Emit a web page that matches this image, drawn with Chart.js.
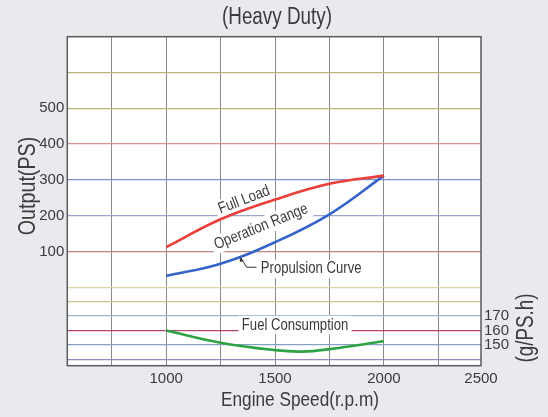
<!DOCTYPE html>
<html>
<head>
<meta charset="utf-8">
<script src="https://cdn.jsdelivr.net/npm/chart.js@4"></script>
<style>
  html, body { margin: 0; padding: 0; background: #e8eaee; }
  #wrap { width: 548px; height: 417px; }
</style>
</head>
<body>
<div id="wrap"><canvas id="c" width="548" height="417"></canvas></div>
<script>
// ---- data ----
const rpm = [1000, 1250, 1500, 1750, 2000];
const fullLoad = [112, 190, 245, 289, 312];
const propulsion = [32, 66, 126, 204, 312];
const fuelRpm = [1000, 1250, 1500, 1625, 1750, 2000];
const fuelConsumption = [160, 151.5, 146.3, 145.3, 147, 152.5];
const xTickLabels = ['1000', '1500', '2000', '2500'];
const outputTicks = [100, 200, 300, 400, 500];
const fuelTicks = [150, 160, 170];

const FONT = '"Liberation Sans", Arial, sans-serif';
const TEXT = '#3b3b3b';
const NARROW = 0.82;
Chart.defaults.font.family = FONT;
Chart.defaults.color = TEXT;

const X_MIN = 546, X_MAX = 2446;
const Y_MIN = -219, Y_MAX = 700;
const Y2_MIN = 135.5, Y2_MAX = 364;

const outputGridColors = {0: '#d9d4a2', 100: '#b98585', 200: '#9aa4cc', 300: '#7d8fd0', 400: '#dc9090', 500: '#b9b47f', 600: '#b9b47f'};
const fuelGridColors = {140: '#9a86c0', 150: '#86a2c4', 160: '#b4486a', 170: '#9fb4cc', 180: '#c9c18c'};

function pts(xs, ys) { return xs.map((x, i) => ({x: x, y: ys[i]})); }

// draws condensed text (horizontal squeeze) centred on x,y
function narrowText(ctx, text, x, y, size, angle, box) {
  ctx.save();
  ctx.translate(x, y);
  ctx.rotate(angle * Math.PI / 180);
  ctx.scale(NARROW, 1);
  ctx.font = size + 'px ' + FONT;
  const w = ctx.measureText(text).width;
  if (box) {
    ctx.fillStyle = '#ffffff';
    ctx.fillRect(-w / 2 - 4, -size * 0.58, w + 8, size * 1.16);
  }
  ctx.fillStyle = TEXT;
  ctx.textAlign = 'center';
  ctx.textBaseline = 'middle';
  ctx.fillText(text, 0, 0);
  ctx.restore();
}

const decor = {
  id: 'decor',
  beforeDraw(chart) {
    const {ctx, chartArea: a} = chart;
    ctx.save();
    ctx.fillStyle = '#e8eaee';
    ctx.fillRect(0, 0, chart.width, chart.height);
    ctx.fillStyle = '#ffffff';
    ctx.fillRect(a.left, a.top, a.right - a.left, a.bottom - a.top);
    ctx.restore();
  },
  beforeDatasetsDraw(chart) {
    const {ctx} = chart;
    const sx = chart.scales.x, sy = chart.scales.y, sy2 = chart.scales.y2;
    narrowText(ctx, 'Full Load', sx.getPixelForValue(1358), sy.getPixelForValue(244), 16, -21, true);
    narrowText(ctx, 'Operation Range', sx.getPixelForValue(1436), sy.getPixelForValue(169), 16, -22, true);
    narrowText(ctx, 'Propulsion Curve', sx.getPixelForValue(1666), sy.getPixelForValue(51), 16, 0, true);
    narrowText(ctx, 'Fuel Consumption', sx.getPixelForValue(1592), sy2.getPixelForValue(163.7), 16, 0, true);
    // leader for propulsion curve
    const tx = sx.getPixelForValue(1343), ty = sy.getPixelForValue(82);
    const mx = sx.getPixelForValue(1370), my = sy.getPixelForValue(56);
    const ex = sx.getPixelForValue(1415);
    ctx.save();
    ctx.strokeStyle = '#333';
    ctx.lineWidth = 1;
    ctx.beginPath();
    ctx.moveTo(tx, ty);
    ctx.lineTo(mx, my);
    ctx.lineTo(ex, my);
    ctx.stroke();
    ctx.fillStyle = '#333';
    ctx.beginPath();
    ctx.moveTo(tx - 1, ty - 1);
    ctx.lineTo(tx + 3, ty + 3);
    ctx.lineTo(tx - 1, ty + 4);
    ctx.closePath();
    ctx.fill();
    ctx.restore();
  },
  afterDraw(chart) {
    const {ctx, chartArea: a} = chart;
    ctx.save();
    ctx.strokeStyle = '#5a5a5a';
    ctx.lineWidth = 1.5;
    ctx.strokeRect(a.left, a.top, a.right - a.left, a.bottom - a.top);
    ctx.restore();
    narrowText(ctx, '(Heavy Duty)', 277, 18, 23, 0, false);
    narrowText(ctx, 'Output(PS)', 28, 186, 24, -90, false);
    narrowText(ctx, '(g/PS.h)', 527, 328, 23, -90, false);
    narrowText(ctx, 'Engine Speed(r.p.m)', 300, 400, 21, 0, false);
  }
};

new Chart(document.getElementById('c'), {
  type: 'line',
  data: {
    datasets: [
      { label: 'Full Load', data: pts(rpm, fullLoad), yAxisID: 'y', borderColor: '#ea3f3a', borderWidth: 2.6, pointRadius: 0, tension: 0.4, fill: false },
      { label: 'Propulsion Curve', data: pts(rpm, propulsion), yAxisID: 'y', borderColor: '#3563c9', borderWidth: 2.6, pointRadius: 0, tension: 0.4, fill: false },
      { label: 'Fuel Consumption', data: pts(fuelRpm, fuelConsumption), yAxisID: 'y2', borderColor: '#2ea346', borderWidth: 2.6, pointRadius: 0, tension: 0.4, fill: false }
    ]
  },
  options: {
    responsive: false,
    animation: false,
    layout: { padding: { top: 36.7, left: 0, right: 0, bottom: 0 } },
    plugins: {
      legend: { display: false },
      tooltip: { enabled: false },
      title: { display: false }
    },
    scales: {
      x: {
        type: 'linear',
        min: X_MIN, max: X_MAX,
        afterFit(s) { s.height = 51.3; },
        afterBuildTicks(s) {
          s.ticks = [750, 1000, 1250, 1500, 1750, 2000, 2250, X_MAX].map(v => ({value: v}));
        },
        ticks: {
          autoSkip: false, maxRotation: 0, padding: 4,
          font: { size: 15 }, color: TEXT,
          callback(v) {
            if (v === X_MAX) return xTickLabels[xTickLabels.length - 1];
            const s = String(v);
            return xTickLabels.includes(s) ? s : '';
          }
        },
        grid: { drawTicks: false, color: ctx => (ctx.tick && ctx.tick.value === X_MAX) ? 'rgba(0,0,0,0)' : '#8a8a8a', lineWidth: 1 },
        border: { display: false }
      },
      y: {
        type: 'linear', position: 'left',
        min: Y_MIN, max: Y_MAX,
        afterFit(s) { s.width = 67.3; },
        afterBuildTicks(s) {
          s.ticks = [0, 100, 200, 300, 400, 500, 600].map(v => ({value: v}));
        },
        ticks: {
          autoSkip: false, padding: 3, font: { size: 15 }, color: TEXT,
          callback(v) { return outputTicks.includes(v) ? String(v) : ''; }
        },
        grid: { drawTicks: false, color: ctx => outputGridColors[ctx.tick ? ctx.tick.value : 0] || '#999', lineWidth: 1.2 },
        border: { display: false }
      },
      y2: {
        type: 'linear', position: 'right',
        min: Y2_MIN, max: Y2_MAX,
        afterFit(s) { s.width = 67; },
        afterBuildTicks(s) {
          s.ticks = [140, 150, 160, 170, 180].map(v => ({value: v}));
        },
        ticks: {
          autoSkip: false, padding: 3, font: { size: 15 }, color: TEXT,
          callback(v) { return fuelTicks.includes(v) ? String(v) : ''; }
        },
        grid: { drawTicks: false, drawOnChartArea: true, color: ctx => fuelGridColors[ctx.tick ? ctx.tick.value : 0] || '#999', lineWidth: 1.2 },
        border: { display: false }
      }
    }
  },
  plugins: [decor]
});
</script>
</body>
</html>
